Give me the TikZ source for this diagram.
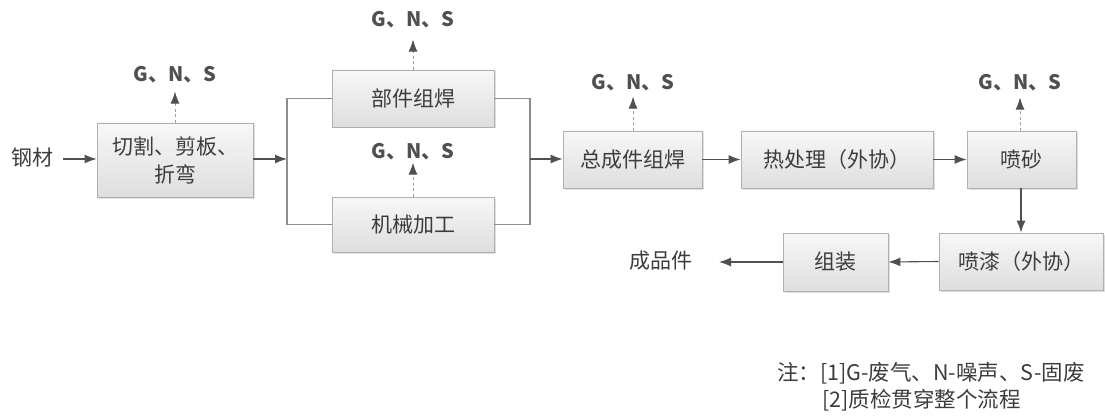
\documentclass[tikz,border=0pt]{standalone}
\usepackage{fontspec}
\newfontfamily\cjk{Noto Sans CJK SC}
\usetikzlibrary{arrows.meta,shadows}
\definecolor{txt}{HTML}{3C3C3C}
\definecolor{ln}{HTML}{505050}
\definecolor{bd}{HTML}{B0B0B0}
\begin{document}
\begin{tikzpicture}[x=1pt,y=-1pt,
  proc/.style={draw=bd, line width=0.8pt, top color=white!97!black, bottom color=white!87!black,
     drop shadow={shadow xshift=1.5pt, shadow yshift=-1.5pt, opacity=0.25},
     inner sep=0pt, align=center, text=txt, font=\cjk\fontsize{21}{28}\selectfont},
  lbl/.style={text=txt, font=\cjk\fontsize{21}{24}\selectfont, inner sep=0pt},
  gns/.style={text=txt!90, font=\cjk\bfseries\fontsize{20}{22}\selectfont, inner sep=0pt},
  note/.style={text=txt, font=\cjk\fontsize{21.5}{24}\selectfont, inner sep=0pt, anchor=west},
  flow/.style={draw=ln, line width=1.1pt, -{Latex[length=12pt,width=9pt]}},
  plain/.style={draw=ln!65, line width=1.1pt},
  emit/.style={draw=ln!55, line width=1pt, dash pattern=on 3pt off 2.5pt,
     -{Latex[length=12pt,width=9pt,color=ln]}}
]
\useasboundingbox (0,0) rectangle (1105,417);

% input
\node[lbl] (steel) at (32,158) {钢材};
\coordinate (sin) at (63,159);

% boxes
\node[proc, minimum width=156, minimum height=74] (b1) at (175,160) {切割、剪板、\\折弯};
\node[proc, minimum width=162, minimum height=57] (b2) at (413,98.5) {部件组焊};
\node[proc, minimum width=162, minimum height=55] (b3) at (413,224.5) {机械加工};
\node[proc, minimum width=139, minimum height=57] (b4) at (632.5,159.5) {总成件组焊};
\node[proc, minimum width=192, minimum height=57] (b5) at (837,159.5) {热处理（外协）};
\node[proc, minimum width=109, minimum height=57] (b6) at (1021.5,159.5) {喷砂};
\node[proc, minimum width=164, minimum height=57] (b7) at (1021,261.5) {喷漆（外协）};
\node[proc, minimum width=105, minimum height=58] (b8) at (835.5,262) {组装};
\node[lbl] (prod) at (661,261) {成品件};
\coordinate (pin) at (719,262);

% emission labels
\node[gns] (g1) at (175,75) {G、N、S};
\node[gns] (g2) at (413,20) {G、N、S};
\node[gns] (g3) at (413,152) {G、N、S};
\node[gns] (g4) at (633,83) {G、N、S};
\node[gns] (g6) at (1020,83) {G、N、S};

% bus coordinates
\coordinate (lb) at (287,159);
\coordinate (lt) at (287,98.5);
\coordinate (lbot) at (287,224.5);
\coordinate (rt) at (530,98.5);
\coordinate (rbot) at (530,224.5);
\coordinate (rb) at (530,159);

% flows
\draw[flow] (sin) -- (b1.west |- sin);
\draw[flow] (b1.east |- lb) -- (lb);
\draw[plain] (b2.west) -- (lt) -- (lbot) -- (b3.west);
\draw[plain] (b2.east) -- (rt) -- (rbot) -- (b3.east);
\draw[flow] (rb) -- (b4.west |- rb);
\draw[flow] (b4.east) -- (b5.west);
\draw[flow] (b5.east) -- (b6.west);
\draw[flow] (b6.south -| b7.north) -- (b7.north);
\draw[flow] (b7.west) -- (b8.east);
\draw[flow] (b8.west) -- (pin);

% emissions
\draw[emit] (b1.north) -- ++(0,-31);
\draw[emit] (b2.north) -- ++(0,-30);
\draw[emit] (b3.north) -- ++(0,-34);
\draw[emit] (b4.north -| g4) -- ++(0,-34);
\draw[emit] (b6.north -| g6) -- ++(0,-33);

% note
\node[note] (n1) at (777,373) {注：[1]G-废气、N-噪声、S-固废};
\node[note] (n2) at (822,400) {[2]质检贯穿整个流程};
\end{tikzpicture}
\end{document}
